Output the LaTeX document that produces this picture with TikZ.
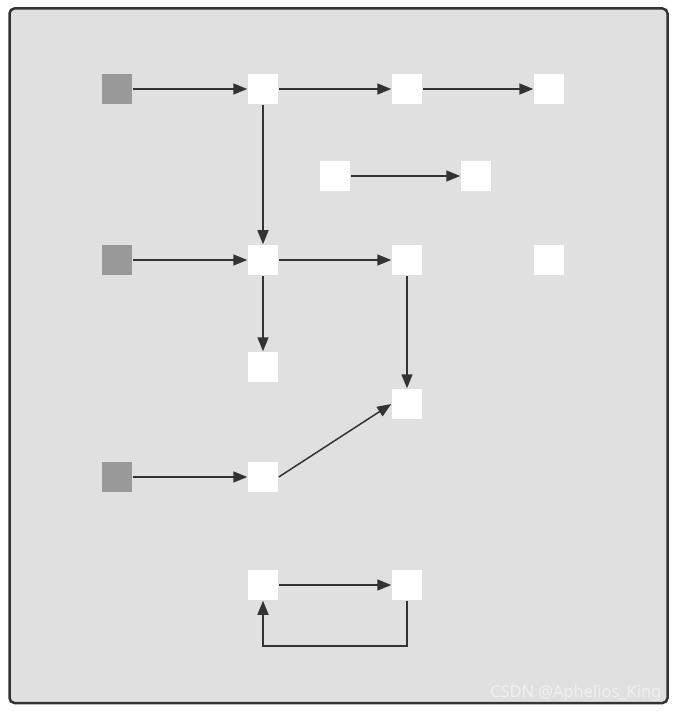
\documentclass[tikz,border=0pt]{standalone}
\usepackage{fontspec}
\setmainfont{Noto Sans}
\usetikzlibrary{arrows.meta}
\definecolor{panel}{HTML}{E0E0E0}
\definecolor{ink}{HTML}{333333}
\definecolor{start}{HTML}{999999}
\begin{document}
\begin{tikzpicture}[x = 0.03cm, y = -0.03cm, line width = 0.045cm,
		filled/.style = {rectangle, fill = start, minimum size = 0.9cm, inner sep = 0},
		empty/.style = {rectangle, fill = white, minimum size = 0.9cm, inner sep = 0},
		edge/.style = {draw = ink, -{Triangle[length = 0.42cm, width = 0.33cm]}}]
		
		\useasboundingbox (0,0) rectangle (677,711);
		\draw [draw = ink, fill = panel, line width = 0.075cm, rounded corners = 0.15cm] (9.5,8.5) rectangle (667.5,703);
		
		\node [filled] (A) at (117,89) {};
		\node [empty] (B) at (263,89) {};
		\node [empty] (C) at (407,89) {};
		\node [empty] (D) at (549,89) {};
		\node [empty] (E) at (335,176) {};
		\node [empty] (F) at (476,176) {};
		\node [filled] (G) at (117,260) {};
		\node [empty] (H) at (263,260) {};
		\node [empty] (I) at (407,260) {};
		\node [empty] (J) at (549,260) {};
		\node [empty] (K) at (263,367) {};
		\node [empty] (L) at (407,404) {};
		\node [filled] (M) at (117,477) {};
		\node [empty] (N) at (263,477) {};
		\node [empty] (O) at (263,585) {};
		\node [empty] (P) at (407,585) {};
		\coordinate (Q) at (407,646);
		\coordinate (R) at (263,646);
		
		\draw [edge] (A) -- (B);
		\draw [edge] (B) -- (C);
		\draw [edge] (C) -- (D);
		\draw [edge] (E) -- (F);
		\draw [edge] (B) -- (H);
		\draw [edge] (G) -- (H);
		\draw [edge] (H) -- (I);
		\draw [edge] (H) -- (K);
		\draw [edge] (I) -- (L);
		\draw [edge] (M) -- (N);
		\draw [edge] (N.east) -- (L.west);
		\draw [edge] (O) -- (P);
		\draw [edge] (P) -- (Q) -- (R) -- (O);
		
		% watermark
		\node [anchor = base east, text = white!94!black, inner sep = 0, font = \fontsize{14}{16}\selectfont] (W) at (662,697) {CSDN @Aphelios\_King};
		
\end{tikzpicture}
\end{document}
